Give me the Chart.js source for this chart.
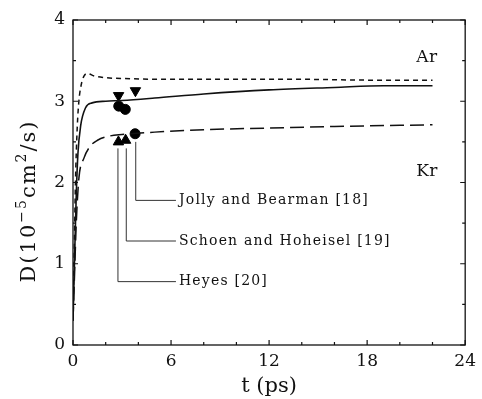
<!DOCTYPE html>
<html>
<head>
<meta charset="utf-8">
<script src="https://cdn.jsdelivr.net/npm/chart.js@4.4.0/dist/chart.umd.min.js"></script>
<style>
  html, body { margin: 0; padding: 0; background: #fff; }
  #wrap { width: 482px; height: 399px; }
</style>
</head>
<body>
<div id="wrap"><canvas id="chart" width="482" height="399"></canvas></div>
<script>
// curves
var tAr = [0, 0.08, 0.15, 0.26, 0.36, 0.5, 0.67, 0.9, 1.3, 2, 3, 6, 10, 14, 18, 22];
var dAr = [0.3, 1.2, 2.0, 2.68, 3.0, 3.2, 3.31, 3.34, 3.31, 3.29, 3.28, 3.27, 3.27, 3.27, 3.26, 3.26];

var tMid = [0, 0.1, 0.2, 0.3, 0.47, 0.77, 1.17, 2, 3, 5, 8, 12, 16, 19, 22];
var dMid = [0.3, 1.1, 1.85, 2.35, 2.7, 2.92, 2.98, 3.0, 3.01, 3.04, 3.09, 3.14, 3.17, 3.19, 3.19];

var tKr = [0, 0.1, 0.2, 0.36, 0.67, 1.07, 1.5, 2.2, 3, 5, 8, 12, 16, 22];
var dKr = [0.3, 0.9, 1.5, 2.05, 2.3, 2.45, 2.52, 2.57, 2.59, 2.62, 2.65, 2.67, 2.69, 2.71];

// literature points
var downTri = [[2.79, 3.07], [3.82, 3.13]];
var circles = [[2.8, 2.94], [3.2, 2.9], [3.8, 2.6]];
var upTri = [[2.78, 2.5], [3.22, 2.52]];

// leader labels: t, top of line, bottom of line, text
var refT = [3.84, 3.26, 2.75];
var refTop = [2.5, 2.42, 2.42];
var refEnd = [1.78, 1.28, 0.78];
var refText = ["Jolly and Bearman [18]", "Schoen and Hoheisel [19]", "Heyes [20]"];

var serif = '"DejaVu Serif", serif';

function pts(t, d) {
  return t.map(function(v, i) { return {x: v, y: d[i]}; });
}
function pairs(a) {
  return a.map(function(p) { return {x: p[0], y: p[1]}; });
}

var boxAndTicks = {
  id: 'boxAndTicks',
  afterDatasetsDraw: function(chart) {
    var ctx = chart.ctx, a = chart.chartArea;
    var xs = chart.scales.x, ys = chart.scales.y;
    ctx.save();
    ctx.strokeStyle = '#111';
    ctx.lineWidth = 1.3;
    ctx.strokeRect(a.left, a.top, a.right - a.left, a.bottom - a.top);
    ctx.lineWidth = 1.2;
    ctx.beginPath();
    xs.ticks.forEach(function(tk) {
      var px = xs.getPixelForValue(tk.value);
      var len = tk.value % 6 === 0 ? 5 : 3;
      ctx.moveTo(px, a.bottom); ctx.lineTo(px, a.bottom - len);
      ctx.moveTo(px, a.top); ctx.lineTo(px, a.top + len);
    });
    ys.ticks.forEach(function(tk) {
      var py = ys.getPixelForValue(tk.value);
      var len = tk.value % 1 === 0 ? 5 : 3;
      ctx.moveTo(a.left, py); ctx.lineTo(a.left + len, py);
      ctx.moveTo(a.right, py); ctx.lineTo(a.right - len, py);
    });
    ctx.stroke();

    // leader lines and labels
    ctx.lineWidth = 1;
    ctx.strokeStyle = '#333';
    ctx.fillStyle = '#111';
    ctx.font = '14px ' + serif;
    ctx.letterSpacing = '1.2px';
    ctx.textBaseline = 'middle';
    var textX = xs.getPixelForValue(6.3);
    refT.forEach(function(t, i) {
      var px = xs.getPixelForValue(t);
      var y0 = ys.getPixelForValue(refTop[i]);
      var y1 = ys.getPixelForValue(refEnd[i]);
      ctx.beginPath();
      ctx.moveTo(px, y0); ctx.lineTo(px, y1); ctx.lineTo(textX, y1);
      ctx.stroke();
      ctx.fillText(refText[i], textX + 3, y1);
    });

    ctx.font = '17px ' + serif;
    ctx.letterSpacing = '0.5px';
    ctx.fillText('Ar', xs.getPixelForValue(21.0), ys.getPixelForValue(3.54));
    ctx.fillText('Kr', xs.getPixelForValue(21.0), ys.getPixelForValue(2.14));

    // y axis title with real superscripts
    var parts = [['D(10', 21, 0], ['\u22125', 14, -9], ['cm', 21, 0], ['2', 14, -9], ['/s)', 21, 0]];
    ctx.letterSpacing = '2px';
    ctx.textBaseline = 'alphabetic';
    var total = 0;
    parts.forEach(function(p) { ctx.font = p[1] + 'px ' + serif; total += ctx.measureText(p[0]).width; });
    ctx.translate(35, 201);
    ctx.rotate(-Math.PI / 2);
    var x = -total / 2;
    parts.forEach(function(p) {
      ctx.font = p[1] + 'px ' + serif;
      ctx.fillText(p[0], x, p[2]);
      x += ctx.measureText(p[0]).width;
    });
    ctx.restore();
  }
};

new Chart(document.getElementById('chart'), {
  type: 'line',
  data: {
    datasets: [
      { data: pts(tAr, dAr), borderColor: '#111', borderWidth: 1.5, borderDash: [5, 4], pointRadius: 0, cubicInterpolationMode: 'monotone', fill: false },
      { data: pts(tMid, dMid), borderColor: '#111', borderWidth: 1.6, pointRadius: 0, cubicInterpolationMode: 'monotone', fill: false },
      { data: pts(tKr, dKr), borderColor: '#111', borderWidth: 1.5, borderDash: [14, 6], pointRadius: 0, cubicInterpolationMode: 'monotone', fill: false },
      { data: pairs(downTri), showLine: false, pointStyle: 'triangle', rotation: 180, pointRadius: 6, backgroundColor: '#000', borderColor: '#000' },
      { data: pairs(circles), showLine: false, pointStyle: 'circle', pointRadius: 5, backgroundColor: '#000', borderColor: '#000' },
      { data: pairs(upTri), showLine: false, pointStyle: 'triangle', pointRadius: 6, backgroundColor: '#000', borderColor: '#000' }
    ]
  },
  plugins: [boxAndTicks],
  options: {
    responsive: false,
    animation: false,
    layout: { padding: { left: 0, top: 20, right: 14, bottom: 0 } },
    plugins: { legend: { display: false }, tooltip: { enabled: false } },
    scales: {
      x: {
        type: 'linear', min: 0, max: 24,
        grid: { display: false, drawTicks: false },
        border: { display: false },
        ticks: {
          stepSize: 2, padding: 6, color: '#111',
          font: { family: serif, size: 17 },
          callback: function(v) { return v % 6 === 0 ? v : ''; }
        },
        title: { display: true, text: 't (ps)', color: '#111', padding: { top: 0, bottom: 0 },
                 font: { family: serif, size: 21 } },
        afterFit: function(s) { s.height = 54; }
      },
      y: {
        min: 0, max: 4,
        grid: { display: false, drawTicks: false },
        border: { display: false },
        ticks: {
          stepSize: 0.5, padding: 8, color: '#111',
          font: { family: serif, size: 17 },
          callback: function(v) { return v % 1 === 0 ? v : ''; }
        },
        title: { display: false },
        afterFit: function(s) { s.width = 73; }
      }
    }
  }
});
</script>
</body>
</html>
